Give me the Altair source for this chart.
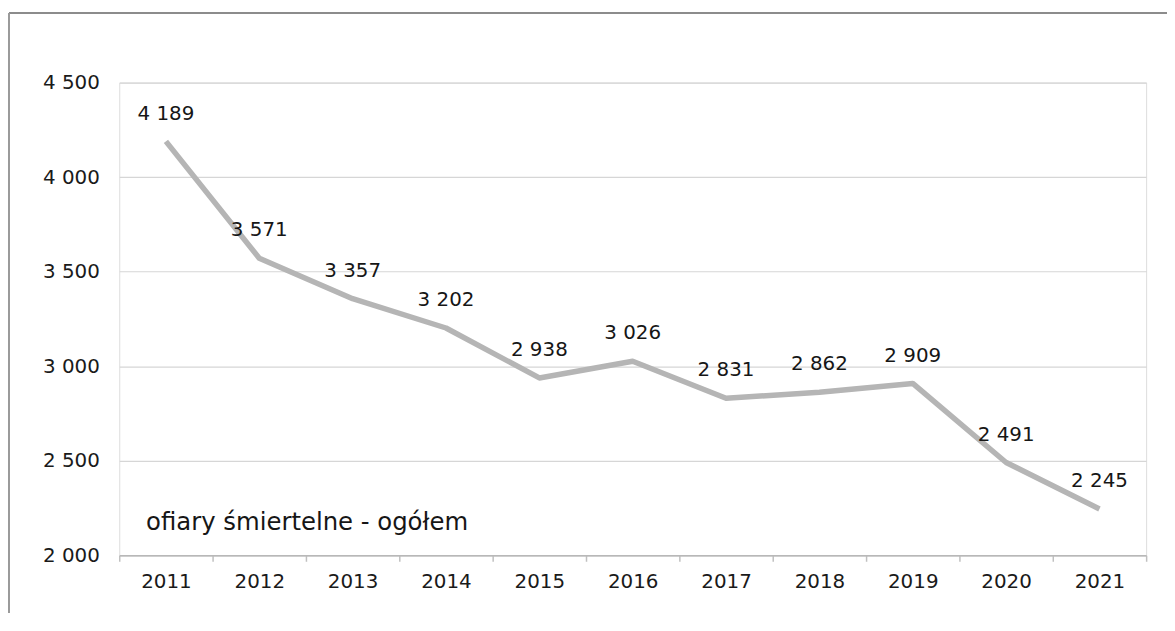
import altair as alt
import pandas as pd

years = ["2011", "2012", "2013", "2014", "2015", "2016", "2017", "2018", "2019", "2020", "2021"]
victims = [4189, 3571, 3357, 3202, 2938, 3026, 2831, 2862, 2909, 2491, 2245]
y_ticks = [2000, 2500, 3000, 3500, 4000, 4500]
series_name = "ofiary śmiertelne - ogółem"

df = pd.DataFrame({"rok": years, "ofiary": victims})

W, H = 1034, 476
FONT = "DejaVu Sans"

x_enc = alt.X(
    "rok:N",
    sort=years,
    scale=alt.Scale(type="band", paddingInner=0, paddingOuter=0),
    axis=alt.Axis(
        title=None, labelAngle=0, labelFont=FONT, labelFontSize=20, labelColor="#1a1a1a",
        domainColor="#b8b8b8", domainWidth=1.5, tickColor="#c0c0c0", tickSize=6, tickWidth=1.5,
        tickBand="extent", labelPadding=10, grid=False,
    ),
)
y_enc = alt.Y(
    "ofiary:Q",
    scale=alt.Scale(domain=[2000, 4500], nice=False, zero=False),
    axis=alt.Axis(
        title=None, values=y_ticks, domain=False, ticks=False, labelPadding=20,
        labelFont=FONT, labelFontSize=20, labelColor="#1a1a1a",
        labelExpr="replace(format(datum.value, ','), ',', ' ')",
        gridColor="#d6d6d6", gridWidth=1.2,
    ),
)

base = alt.Chart(df)

line = base.mark_line(color="#b5b5b5", strokeWidth=5.5, strokeJoin="round").encode(x=x_enc, y=y_enc)

labels = base.transform_calculate(
    lab="replace(format(datum.ofiary, ','), ',', ' ')"
).mark_text(
    font=FONT, fontSize=20, color="#161616", dy=-28, baseline="middle", align="center"
).encode(x=alt.X("rok:N", sort=years), y="ofiary:Q", text="lab:N")

name_df = pd.DataFrame({"t": [series_name]})
name = alt.Chart(name_df).mark_text(
    font=FONT, fontSize=24.5, color="#161616", align="left", baseline="middle"
).encode(x=alt.value(27), y=alt.value(444), text="t:N")

frame_df = pd.DataFrame({"k": [0]})
frame_top = alt.Chart(frame_df).mark_rule(color="#8c8c8c", strokeWidth=2).encode(
    x=alt.value(-111), x2=alt.value(1055), y=alt.value(-70)
)
frame_left = alt.Chart(frame_df).mark_rule(color="#9a9a9a", strokeWidth=2).encode(
    x=alt.value(-111), y=alt.value(-70), y2=alt.value(540)
)

chart = alt.layer(line, labels, name, frame_top, frame_left).properties(
    width=W, height=H,
    autosize=alt.AutoSizeParams(type="none"),
    padding={"left": 112, "top": 73, "right": 21, "bottom": 56},
).configure_view(stroke=None).configure(background="white")

chart.save("out.html", embed_options={"renderer": "svg", "actions": False})
